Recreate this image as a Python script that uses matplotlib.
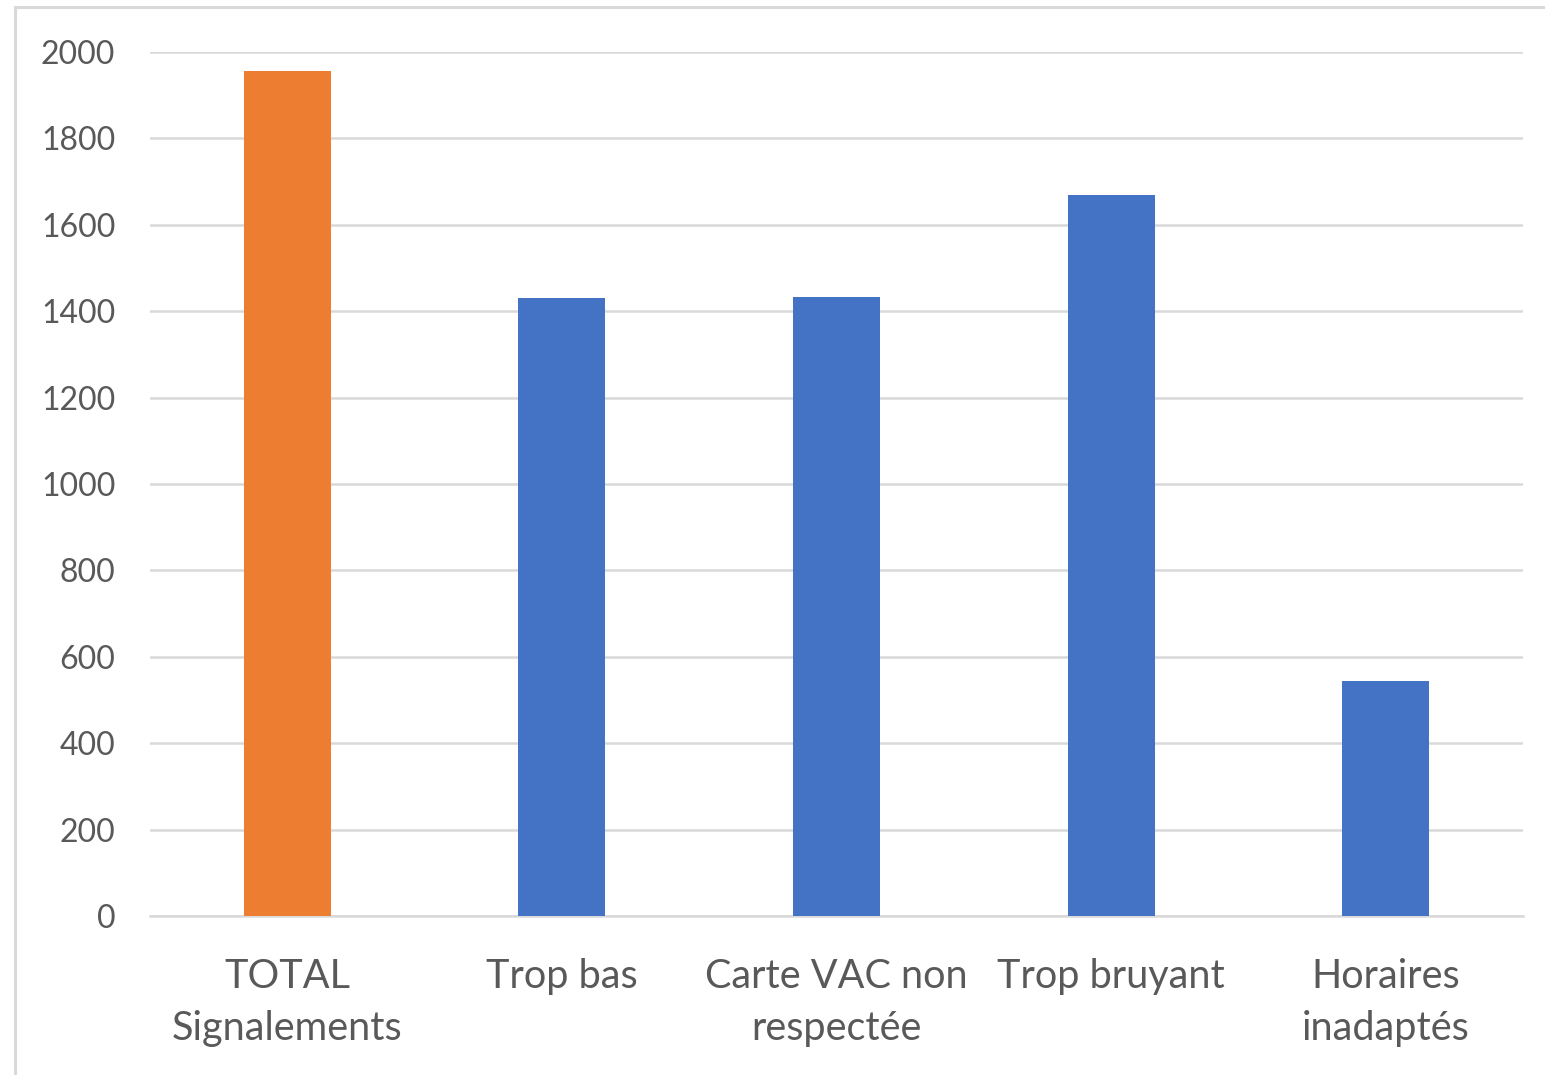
import matplotlib.pyplot as plt
from matplotlib.patches import Rectangle

categories = ["TOTAL\nSignalements", "Trop bas", "Carte VAC non\nrespectée", "Trop bruyant", "Horaires\ninadaptés"]
values = [1955, 1431, 1433, 1669, 544]
colors = ["#ED7D31", "#4472C4", "#4472C4", "#4472C4", "#4472C4"]
yticks = [0, 200, 400, 600, 800, 1000, 1200, 1400, 1600, 1800, 2000]

plt.rcParams['font.family'] = ['Lato', 'DejaVu Sans']
fig = plt.figure(figsize=(15.45, 10.75), dpi=100)
ax = fig.add_axes([150/1545, 1 - 916/1075, (1523-150)/1545, (916-52)/1075])

x = range(len(categories))
ax.bar(x, values, width=0.317, color=colors, zorder=3)
ax.set_xlim(-0.5, len(categories) - 0.5)
ax.set_ylim(0, 2000)
ax.set_yticks(yticks)
ax.yaxis.grid(True, color="#d9d9d9", linewidth=1.8, zorder=0)
ax.set_xticks(list(x))
ax.set_xticklabels(categories, fontsize=28.5, color="#595959", linespacing=1.52)
ax.tick_params(axis='x', length=0, pad=30)
ax.tick_params(axis='y', length=0, pad=25, labelsize=23, labelcolor="#595959")
for s in ['top', 'right', 'left']:
    ax.spines[s].set_visible(False)
ax.spines['bottom'].set_color("#d9d9d9")
ax.spines['bottom'].set_linewidth(1.8)

# outer chart frame (cropped on right and bottom)
fig.patches.append(Rectangle((15/1545, -0.1), 1.2, 1 - 7/1075 + 0.1, transform=fig.transFigure,
                             fill=False, edgecolor="#d9d9d9", linewidth=2.2))

fig.savefig("out.png", dpi=100)
